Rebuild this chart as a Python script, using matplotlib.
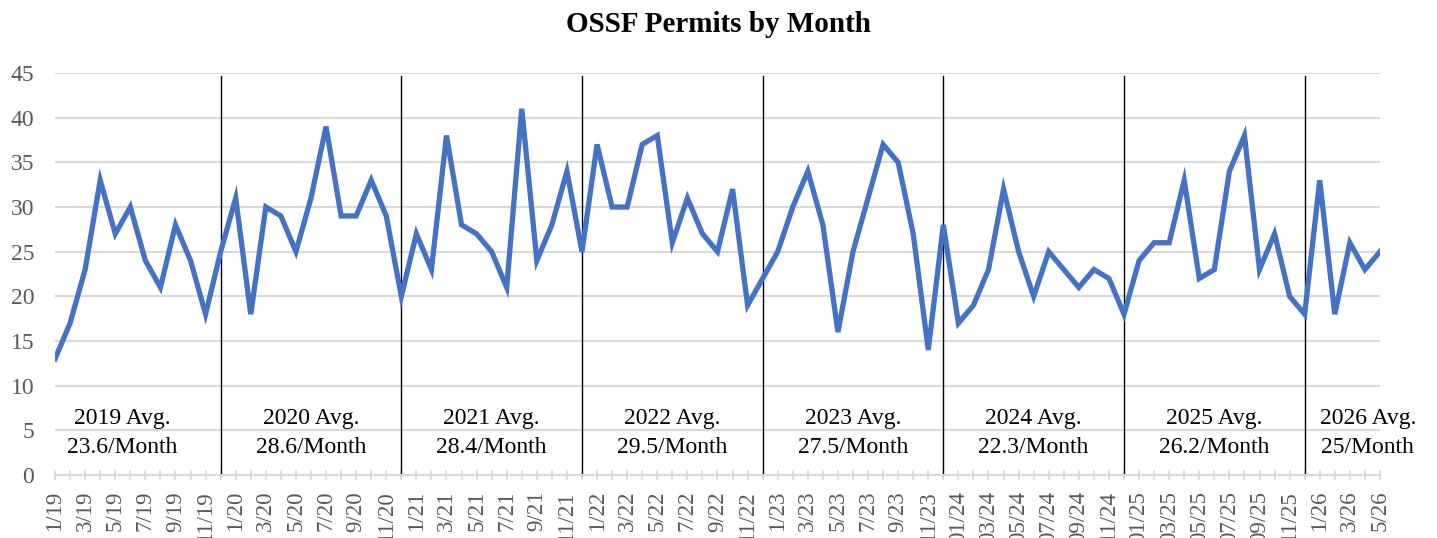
import matplotlib
matplotlib.use("Agg")
import matplotlib.pyplot as plt
import numpy as np

# monthly permits
p2019 = [13, 17, 23, 33, 27, 30, 24, 21, 28, 24, 18, 25]
p2020 = [31, 18, 30, 29, 25, 31, 39, 29, 29, 33, 29, 20]
p2021 = [27, 23, 38, 28, 27, 25, 21, 41, 24, 28, 34, 25]
p2022 = [37, 30, 30, 37, 38, 26, 31, 27, 25, 32, 19, 22]
p2023 = [25, 30, 34, 28, 16, 25, 31, 37, 35, 27, 14, 28]
p2024 = [17, 19, 23, 32, 25, 20, 25, 23, 21, 23, 22, 18]
p2025 = [24, 26, 26, 33, 22, 23, 34, 38, 23, 27, 20, 18]
p2026 = [33, 18, 26, 23, 25]

years = [2019, 2020, 2021, 2022, 2023, 2024, 2025, 2026]
avg_labels = ["23.6", "28.6", "28.4", "29.5", "27.5", "22.3", "26.2", "25"]

series = [p2019, p2020, p2021, p2022, p2023, p2024, p2025, p2026]
values = sum(series, [])

# month tick labels (2024/2025 use zero padded months like the source)
labels = []
for yr, s in zip(years, series):
    for m in range(1, len(s) + 1):
        if yr in (2024, 2025):
            labels.append(f"{m:02d}/{yr % 100}")
        else:
            labels.append(f"{m}/{yr % 100}")

plt.rcParams['font.family'] = ['Liberation Serif', 'DejaVu Serif']

fig = plt.figure(figsize=(14.37, 5.38), dpi=100)
ax = fig.add_axes([0.0383, 0.1171, 0.922, 0.7472])

x = np.arange(len(values))
ax.plot(x, values, color="#4472C4", linewidth=3.8, solid_joinstyle="miter", zorder=3)

ax.set_xlim(0, len(values) - 1)
ax.set_ylim(0, 45)
ax.set_yticks(range(0, 46, 5))
ax.yaxis.grid(True, color="#d9d9d9", linewidth=1.5)
ax.set_axisbelow(True)

ax.set_xticks(x)
ax.set_xticklabels([lab if i % 2 == 0 else "" for i, lab in enumerate(labels)],
                   rotation=90, va="top", ha="center")
ax.tick_params(axis="x", direction="inout", length=7, width=1.2, color="#d9d9d9",
               labelsize=16.5, labelcolor="#595959", pad=8)
ax.tick_params(axis="y", length=0, labelsize=17, labelcolor="#595959", pad=15)

for sp in ["top", "right", "left"]:
    ax.spines[sp].set_visible(False)
ax.spines["bottom"].set_color("#d9d9d9")
ax.spines["bottom"].set_linewidth(1.5)

# year separators at each December
start = 0
text_x = []
for i, s in enumerate(series):
    end = start + len(s)
    if i < len(series) - 1:
        ax.plot([end - 1, end - 1], [0, 44.7], color="black", linewidth=1.0,
                zorder=2, clip_on=False)
    text_x.append(start + 5 - (0.55 if i == 0 else 0))
    start = end
text_x[-1] = 87.2

for tx, yr, a in zip(text_x, years, avg_labels):
    ax.text(tx, 4.7, f"{yr} Avg.\n{a}/Month", ha="center", va="center",
            fontsize=17, linespacing=1.45, zorder=4, clip_on=False)

fig.suptitle("OSSF Permits by Month", fontsize=21, fontweight="bold", y=0.98)

fig.savefig("out.png", dpi=100)
